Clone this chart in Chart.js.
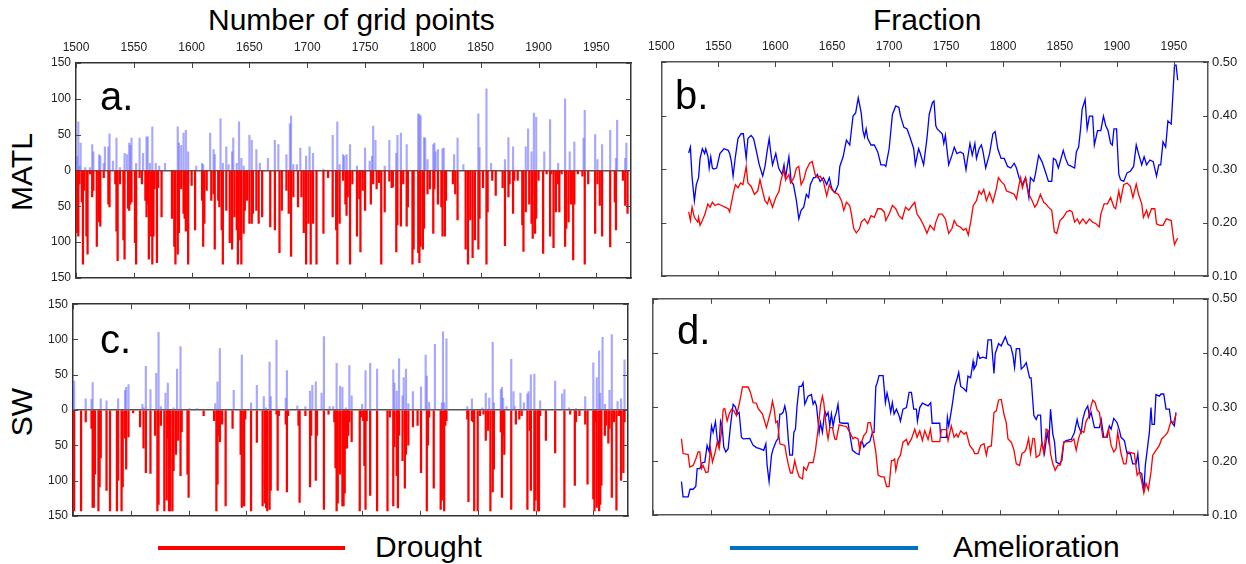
<!DOCTYPE html>
<html>
<head>
<meta charset="utf-8">
<script src="https://cdn.jsdelivr.net/npm/chart.js@4.4.1/dist/chart.umd.min.js"></script>
<style>
  body { margin: 0; background: #fff; }
  #wrap { position: relative; width: 1246px; height: 564px; overflow: hidden; font-family: "Liberation Sans", Arial, sans-serif; color: #000; }
  canvas { position: absolute; }
  .txt { position: absolute; white-space: nowrap; line-height: 1; }
  .big { font-size: 30px; }
  .letter { font-size: 40px; }
  .rot { position: absolute; font-size: 30px; line-height: 1; transform: translate(-50%, -50%) rotate(-90deg); white-space: nowrap; }
  .leg { position: absolute; height: 4px; }
</style>
</head>
<body>
<div id="wrap">
  <div class="txt big" style="left:208px; top:5px;">Number of grid points</div>
  <div class="txt big" style="left:873px; top:5px;">Fraction</div>
  <div class="rot" style="left:22px; top:172px;">MATL</div>
  <div class="rot" style="left:22px; top:412px;">SW</div>

  <canvas id="panelA" width="620" height="260" style="left:30px; top:30px;"></canvas>
  <canvas id="panelB" width="606" height="258" style="left:640px; top:30px;"></canvas>
  <canvas id="panelC" width="620" height="236" style="left:27px; top:292px;"></canvas>
  <canvas id="panelD" width="606" height="240" style="left:640px; top:287px;"></canvas>

  <div class="txt letter" style="left:100px; top:76px;">a.</div>
  <div class="txt letter" style="left:675px; top:75px;">b.</div>
  <div class="txt letter" style="left:100px; top:319px;">c.</div>
  <div class="txt letter" style="left:677px; top:310px;">d.</div>

  <div class="leg" style="left:158px; top:546px; width:187px; background:#ff0000;"></div>
  <div class="txt big" style="left:375px; top:532px;">Drought</div>
  <div class="leg" style="left:730px; top:546px; width:188px; background:#0070c0;"></div>
  <div class="txt big" style="left:953px; top:532px;">Amelioration</div>
</div>
<script>
// panel a (MATL) : [year, number of grid points]
const aDrought = [[1501,87],[1502,92],[1503,19],[1505,44],[1506,131],[1507,28],[1509,92],[1510,117],[1512,5],[1514,37],[1515,28],[1518,106],[1520,72],[1521,78],[1524,10],[1528,47],[1529,51],[1534,19],[1535,85],[1536,126],[1538,19],[1541,97],[1542,124],[1545,53],[1546,56],[1547,47],[1548,44],[1551,101],[1552,131],[1555,10],[1557,19],[1560,42],[1561,65],[1562,47],[1563,124],[1565,92],[1566,131],[1567,92],[1568,26],[1570,129],[1571,24],[1574,65],[1583,67],[1585,106],[1586,131],[1588,117],[1589,87],[1591,26],[1593,60],[1594,67],[1595,85],[1597,131],[1600,21],[1603,83],[1609,42],[1610,106],[1611,74],[1613,28],[1617,42],[1619,33],[1620,110],[1623,42],[1624,51],[1626,83],[1627,131],[1630,56],[1633,101],[1635,110],[1637,65],[1639,83],[1640,131],[1642,97],[1643,131],[1645,88],[1646,56],[1648,42],[1650,74],[1652,74],[1653,60],[1656,56],[1658,74],[1661,65],[1668,79],[1672,83],[1676,115],[1678,56],[1682,28],[1684,60],[1686,120],[1688,37],[1692,51],[1695,37],[1697,87],[1699,131],[1701,74],[1703,131],[1705,74],[1708,131],[1714,88],[1718,10],[1722,65],[1725,83],[1726,131],[1728,74],[1731,14],[1733,47],[1734,63],[1735,37],[1737,131],[1739,19],[1743,92],[1745,40],[1746,114],[1748,28],[1750,56],[1755,47],[1757,19],[1760,26],[1762,17],[1764,131],[1767,58],[1771,15],[1773,24],[1774,23],[1777,114],[1778,76],[1781,78],[1783,19],[1786,78],[1787,51],[1791,131],[1792,110],[1796,115],[1797,129],[1798,106],[1800,110],[1801,81],[1804,33],[1806,26],[1809,88],[1810,26],[1813,47],[1816,51],[1817,92],[1819,92],[1820,42],[1826,19],[1828,33],[1830,69],[1837,110],[1839,131],[1841,69],[1843,122],[1845,97],[1848,110],[1849,67],[1852,24],[1855,131],[1856,58],[1860,14],[1863,35],[1869,24],[1871,105],[1874,37],[1875,19],[1878,60],[1879,14],[1882,14],[1886,76],[1887,113],[1889,58],[1892,47],[1894,74],[1895,95],[1897,88],[1898,67],[1900,14],[1904,116],[1907,5],[1910,92],[1911,5],[1913,108],[1915,58],[1917,19],[1918,58],[1920,5],[1923,106],[1924,81],[1926,72],[1928,47],[1930,125],[1931,47],[1934,5],[1938,8],[1940,131],[1943,19],[1949,88],[1951,19],[1953,49],[1955,92],[1962,107],[1966,44],[1967,83],[1973,14],[1975,49],[1977,60]];
const aAmel = [[1501,20],[1502,68],[1503,6],[1504,38],[1508,4],[1512,4],[1514,36],[1515,26],[1520,22],[1521,20],[1524,10],[1525,33],[1528,33],[1529,51],[1532,13],[1535,45],[1538,4],[1542,24],[1544,22],[1546,38],[1547,35],[1548,45],[1552,10],[1555,45],[1558,24],[1561,47],[1562,47],[1564,10],[1566,61],[1569,10],[1572,6],[1577,10],[1588,61],[1589,38],[1591,35],[1593,52],[1595,56],[1597,26],[1604,6],[1609,10],[1610,8],[1616,52],[1619,29],[1620,22],[1625,72],[1627,10],[1630,33],[1632,8],[1635,26],[1636,45],[1639,10],[1641,68],[1643,17],[1645,6],[1650,49],[1652,42],[1656,29],[1659,10],[1666,17],[1672,42],[1675,36],[1682,22],[1685,65],[1686,76],[1688,8],[1691,8],[1694,31],[1699,20],[1702,33],[1705,24],[1714,2],[1722,49],[1726,68],[1728,8],[1731,22],[1732,20],[1734,22],[1737,36],[1743,6],[1750,31],[1754,13],[1756,20],[1757,62],[1759,42],[1767,6],[1771,42],[1777,24],[1778,49],[1781,52],[1786,36],[1796,79],[1797,78],[1798,76],[1801,46],[1802,45],[1804,15],[1809,36],[1810,38],[1811,26],[1813,29],[1817,30],[1818,31],[1827,22],[1830,45],[1835,8],[1848,79],[1849,32],[1855,114],[1859,10],[1871,15],[1874,46],[1878,33],[1889,33],[1891,58],[1894,26],[1896,80],[1898,74],[1905,26],[1910,71],[1917,10],[1923,100],[1927,26],[1931,40],[1939,45],[1940,84],[1949,50],[1951,15],[1955,36],[1962,56],[1967,17],[1968,70],[1975,17],[1976,38]];

// panel c (SW)
const cDrought = [[1500,118],[1501,143],[1507,143],[1511,17],[1516,26],[1517,138],[1518,138],[1519,91],[1522,143],[1523,109],[1524,68],[1529,114],[1532,143],[1538,143],[1539,100],[1542,143],[1543,109],[1545,40],[1546,84],[1548,38],[1552,4],[1558,24],[1561,54],[1563,89],[1567,90],[1571,36],[1573,143],[1574,134],[1576,22],[1579,143],[1581,128],[1582,40],[1583,143],[1584,143],[1586,143],[1587,86],[1589,63],[1591,43],[1593,93],[1594,31],[1599,91],[1600,124],[1613,8],[1622,15],[1624,143],[1625,105],[1626,36],[1627,45],[1629,20],[1632,136],[1638,26],[1645,63],[1646,138],[1648,136],[1649,13],[1654,143],[1659,46],[1664,136],[1666,132],[1667,139],[1668,143],[1670,141],[1671,114],[1676,6],[1677,114],[1678,8],[1684,20],[1685,116],[1686,8],[1695,22],[1696,131],[1701,8],[1705,109],[1706,36],[1710,100],[1711,36],[1717,141],[1721,6],[1726,17],[1727,82],[1728,143],[1729,132],[1731,91],[1733,136],[1734,136],[1735,118],[1736,54],[1737,54],[1738,36],[1739,17],[1741,45],[1748,143],[1749,10],[1751,15],[1752,79],[1753,141],[1754,15],[1757,121],[1763,143],[1772,143],[1774,10],[1777,136],[1778,52],[1780,93],[1781,139],[1782,36],[1785,72],[1787,111],[1788,63],[1790,50],[1794,24],[1798,22],[1801,89],[1806,143],[1807,50],[1808,10],[1812,111],[1818,141],[1819,128],[1821,143],[1822,22],[1823,15],[1841,13],[1842,130],[1845,15],[1846,17],[1847,143],[1850,143],[1852,8],[1855,6],[1857,43],[1859,29],[1861,143],[1863,116],[1864,84],[1870,31],[1871,124],[1872,36],[1873,63],[1879,141],[1883,20],[1886,13],[1888,8],[1893,141],[1895,29],[1896,114],[1899,143],[1900,128],[1902,143],[1903,143],[1904,8],[1909,43],[1917,61],[1925,138],[1930,6],[1934,107],[1935,17],[1938,8],[1943,20],[1945,105],[1950,126],[1951,143],[1952,17],[1953,138],[1955,143],[1956,134],[1957,107],[1960,36],[1961,22],[1963,47],[1964,26],[1966,124],[1968,17],[1970,142],[1972,8],[1973,8],[1974,100],[1976,89],[1977,17]];
const cAmel = [[1500,31],[1501,41],[1511,16],[1516,15],[1517,39],[1524,16],[1529,13],[1539,16],[1545,28],[1546,32],[1548,36],[1560,8],[1561,3],[1563,62],[1567,29],[1572,52],[1574,110],[1576,5],[1580,24],[1582,38],[1587,3],[1590,58],[1593,90],[1601,2],[1607,2],[1623,9],[1625,40],[1627,87],[1639,28],[1646,78],[1654,10],[1659,35],[1665,19],[1667,3],[1670,68],[1671,19],[1676,99],[1684,17],[1685,56],[1694,6],[1701,5],[1705,27],[1707,35],[1710,40],[1715,24],[1717,104],[1722,5],[1725,5],[1728,66],[1731,34],[1733,32],[1736,3],[1739,63],[1741,20],[1750,8],[1753,56],[1757,66],[1763,58],[1777,57],[1778,38],[1780,27],[1782,73],[1785,20],[1786,46],[1788,58],[1790,9],[1794,26],[1801,33],[1805,78],[1806,48],[1808,11],[1813,93],[1819,10],[1820,111],[1821,10],[1823,101],[1841,5],[1845,16],[1854,3],[1857,24],[1860,17],[1863,96],[1864,10],[1870,29],[1871,32],[1872,17],[1875,5],[1879,72],[1881,26],[1882,5],[1887,24],[1890,10],[1893,23],[1894,26],[1896,50],[1899,51],[1904,13],[1917,41],[1923,23],[1925,29],[1929,3],[1935,2],[1943,19],[1950,67],[1953,46],[1955,84],[1956,24],[1958,103],[1960,8],[1964,28],[1966,107],[1971,12],[1974,16],[1977,71]];

// panel b (MATL) : [year, fraction]
const bAmel = [[1524,0.330],[1525.5,0.341],[1527,0.284],[1529,0.241],[1530.7,0.271],[1532.7,0.284],[1534,0.320],[1536,0.338],[1538,0.329],[1539,0.338],[1541,0.323],[1542,0.302],[1543.4,0.323],[1544.8,0.302],[1546,0.300],[1548.6,0.302],[1551.4,0.329],[1555,0.338],[1558.7,0.335],[1560,0.329],[1561.5,0.314],[1563,0.287],[1565,0.323],[1567.3,0.357],[1570,0.366],[1572,0.366],[1574.5,0.320],[1576,0.357],[1578.8,0.363],[1581,0.357],[1583,0.338],[1586,0.308],[1589,0.287],[1591,0.305],[1593,0.335],[1594.7,0.357],[1596,0.332],[1597.6,0.308],[1600.5,0.329],[1603,0.302],[1606,0.290],[1607.7,0.308],[1609,0.284],[1612,0.323],[1614,0.277],[1616,0.271],[1618.6,0.241],[1620.7,0.207],[1622.7,0.223],[1625,0.229],[1627.3,0.253],[1629.3,0.247],[1630.8,0.271],[1633.6,0.284],[1635,0.284],[1637,0.290],[1639.4,0.277],[1642.3,0.284],[1645.2,0.271],[1647.5,0.284],[1649.5,0.265],[1651,0.259],[1652.4,0.256],[1655.3,0.271],[1656.7,0.305],[1659.6,0.323],[1662.5,0.354],[1665.4,0.345],[1668.3,0.399],[1670.6,0.405],[1672.9,0.433],[1675.5,0.405],[1677,0.372],[1678.4,0.360],[1679.8,0.375],[1681.2,0.357],[1684.1,0.345],[1687,0.345],[1690,0.332],[1692.8,0.308],[1695.7,0.308],[1697.1,0.305],[1700,0.338],[1702.9,0.402],[1705.8,0.418],[1708.6,0.415],[1710,0.399],[1713,0.378],[1715.8,0.375],[1718.7,0.357],[1721.6,0.338],[1723,0.308],[1725.9,0.338],[1727.4,0.329],[1730.3,0.308],[1733.2,0.357],[1735.2,0.402],[1738,0.424],[1739.4,0.427],[1741,0.381],[1742.2,0.375],[1746.6,0.366],[1748,0.348],[1749.4,0.363],[1752.3,0.308],[1755.2,0.326],[1757.2,0.341],[1759.5,0.329],[1762.4,0.332],[1765.2,0.329],[1767.5,0.299],[1768.7,0.317],[1771,0.348],[1773,0.326],[1775.3,0.348],[1776.7,0.320],[1779,0.338],[1781,0.345],[1782.5,0.332],[1784.8,0.302],[1788.2,0.329],[1791.1,0.366],[1793.1,0.370],[1795.4,0.338],[1798.3,0.320],[1801.1,0.320],[1804,0.305],[1806.9,0.302],[1809.8,0.311],[1811.8,0.302],[1814.1,0.284],[1817,0.271],[1819.8,0.284],[1822.7,0.247],[1824.1,0.284],[1827,0.277],[1828.4,0.290],[1831.3,0.326],[1834.2,0.314],[1837.1,0.296],[1839.9,0.277],[1842.8,0.277],[1844.3,0.320],[1846.3,0.317],[1848.6,0.302],[1850.6,0.317],[1852.9,0.335],[1854.9,0.320],[1857.2,0.308],[1860.1,0.305],[1862.9,0.302],[1864.4,0.332],[1866.4,0.341],[1868.1,0.375],[1869.5,0.412],[1872.1,0.430],[1873.9,0.375],[1875.9,0.399],[1878.7,0.399],[1880.2,0.345],[1883,0.372],[1885.9,0.372],[1888.2,0.399],[1890.2,0.381],[1892.2,0.372],[1894.5,0.348],[1896,0.345],[1897.4,0.375],[1899.7,0.375],[1901.7,0.290],[1903.2,0.280],[1906,0.277],[1908.9,0.293],[1911.8,0.296],[1914.7,0.305],[1917,0.345],[1919,0.329],[1921.8,0.308],[1923.9,0.323],[1926.1,0.308],[1929,0.317],[1931.9,0.314],[1934.8,0.287],[1936.8,0.308],[1938.5,0.308],[1940.5,0.351],[1942.8,0.341],[1944.8,0.390],[1947.7,0.384],[1949.1,0.436],[1950.6,0.494],[1952,0.494],[1953.4,0.466]];
const bDrought = [[1524,0.220],[1525.5,0.204],[1527,0.229],[1529,0.210],[1532,0.201],[1532.7,0.210],[1534,0.195],[1536,0.204],[1538.3,0.216],[1540.8,0.235],[1542.8,0.229],[1544.8,0.238],[1547,0.232],[1550,0.235],[1552.9,0.232],[1555.8,0.229],[1558.7,0.226],[1560,0.220],[1563,0.253],[1565,0.271],[1567.3,0.265],[1569.6,0.274],[1571.6,0.271],[1574.5,0.305],[1576,0.274],[1578.8,0.268],[1581.7,0.253],[1584.6,0.259],[1586.6,0.280],[1588.9,0.259],[1591,0.241],[1593.2,0.235],[1594.7,0.247],[1597.6,0.229],[1600.5,0.247],[1603.4,0.259],[1604.8,0.277],[1607.7,0.299],[1609.1,0.280],[1612,0.290],[1613.5,0.274],[1616.4,0.284],[1618.6,0.302],[1620.7,0.305],[1622.7,0.271],[1625,0.280],[1627.3,0.299],[1630.2,0.311],[1632.5,0.314],[1635,0.290],[1637,0.284],[1639.4,0.287],[1642.3,0.277],[1645.2,0.250],[1647.5,0.271],[1649.5,0.262],[1652.4,0.256],[1655.3,0.253],[1658.2,0.241],[1660.2,0.223],[1662.5,0.238],[1665.4,0.232],[1666.9,0.216],[1668.9,0.189],[1671.2,0.181],[1674.1,0.189],[1675.5,0.201],[1678.4,0.207],[1681.2,0.198],[1684.1,0.213],[1687,0.210],[1690,0.226],[1692.8,0.226],[1695.7,0.220],[1697.1,0.204],[1700,0.216],[1702.9,0.232],[1705.8,0.226],[1708.6,0.213],[1711.5,0.207],[1714.4,0.229],[1717.3,0.223],[1720.2,0.232],[1722.5,0.238],[1724.5,0.216],[1727.4,0.207],[1730.3,0.195],[1733.2,0.180],[1736,0.195],[1739.4,0.186],[1741,0.201],[1743.7,0.216],[1746.6,0.216],[1749.4,0.207],[1752.3,0.180],[1755.2,0.189],[1757.2,0.204],[1759.5,0.195],[1762.4,0.192],[1765.2,0.186],[1767.5,0.189],[1769.5,0.177],[1771.6,0.201],[1773.9,0.232],[1776.7,0.241],[1779,0.259],[1781,0.253],[1783.1,0.262],[1785.4,0.241],[1788.2,0.256],[1791.1,0.238],[1794,0.262],[1796,0.284],[1798.3,0.277],[1801.1,0.271],[1803.1,0.259],[1806.9,0.256],[1809.8,0.253],[1811.8,0.244],[1814.1,0.271],[1815.5,0.284],[1817,0.265],[1819.8,0.284],[1822.7,0.253],[1825.6,0.241],[1827.9,0.229],[1829.9,0.235],[1832.8,0.253],[1835.7,0.238],[1837.7,0.235],[1839.9,0.229],[1842.8,0.223],[1845.1,0.183],[1847.2,0.180],[1850,0.204],[1852.9,0.210],[1855.8,0.220],[1858.7,0.223],[1860.7,0.220],[1862.9,0.201],[1865.2,0.207],[1867.2,0.198],[1870.1,0.207],[1873,0.198],[1875.9,0.207],[1878.7,0.201],[1881.6,0.198],[1884.5,0.192],[1885.9,0.216],[1888.8,0.235],[1891.7,0.235],[1894.5,0.247],[1897.4,0.229],[1898.9,0.226],[1901.7,0.259],[1903.2,0.241],[1906,0.271],[1908.9,0.274],[1911.8,0.268],[1914.1,0.247],[1917,0.272],[1919,0.253],[1921.8,0.235],[1923.3,0.210],[1926.1,0.223],[1927.6,0.210],[1930.4,0.226],[1933.3,0.226],[1934.8,0.198],[1937.7,0.195],[1940.5,0.195],[1943.4,0.207],[1947.7,0.204],[1949.1,0.180],[1950.6,0.159],[1952.6,0.168],[1953.4,0.171]];

// panel d (SW)
const dAmel = [[1524.6,0.162],[1526,0.134],[1530.4,0.134],[1532,0.148],[1534.7,0.148],[1537,0.153],[1538.2,0.186],[1540.5,0.186],[1542.5,0.197],[1544.8,0.198],[1546.8,0.229],[1548.6,0.217],[1550.6,0.265],[1552,0.253],[1554,0.273],[1555.5,0.241],[1557.2,0.229],[1558.4,0.274],[1559.8,0.265],[1561.2,0.226],[1563,0.217],[1565,0.223],[1567,0.265],[1569.3,0.305],[1571.3,0.300],[1572.8,0.287],[1574.5,0.290],[1576.5,0.244],[1578,0.241],[1583.7,0.242],[1586.6,0.229],[1589.5,0.225],[1592.4,0.223],[1595.8,0.220],[1597.6,0.232],[1598.7,0.192],[1600.4,0.162],[1602.5,0.211],[1604,0.223],[1606.8,0.238],[1608.2,0.241],[1609.7,0.287],[1611.1,0.287],[1612.5,0.290],[1614,0.302],[1615.4,0.287],[1617,0.241],[1618.3,0.211],[1620.6,0.211],[1621.8,0.253],[1623.2,0.259],[1624.6,0.302],[1626.4,0.338],[1628.4,0.338],[1629.8,0.345],[1631.3,0.305],[1634.1,0.320],[1637,0.323],[1638.5,0.305],[1640,0.311],[1641.4,0.302],[1643.7,0.253],[1644.8,0.271],[1646.5,0.253],[1648.6,0.293],[1650,0.284],[1651.4,0.290],[1652.9,0.265],[1654.3,0.287],[1655.8,0.265],[1657.2,0.281],[1658.6,0.290],[1660,0.305],[1661.5,0.271],[1664.4,0.270],[1668.7,0.270],[1670.7,0.244],[1672.5,0.220],[1676,0.214],[1678.2,0.212],[1679.4,0.235],[1681.1,0.235],[1682.3,0.226],[1684.6,0.232],[1687.5,0.236],[1689.8,0.253],[1691.2,0.253],[1692.7,0.338],[1693.8,0.344],[1695.5,0.358],[1699,0.358],[1701,0.308],[1702.4,0.326],[1704.2,0.308],[1705.6,0.290],[1707,0.308],[1708.5,0.287],[1710.5,0.296],[1712.8,0.284],[1714,0.274],[1716.2,0.296],[1719.2,0.299],[1721.5,0.327],[1723.5,0.327],[1725.5,0.296],[1727.8,0.296],[1728.7,0.274],[1730.7,0.299],[1733,0.307],[1737.9,0.302],[1740.2,0.308],[1741.4,0.270],[1748,0.270],[1748.8,0.244],[1753.7,0.244],[1754.6,0.281],[1755.8,0.265],[1758,0.293],[1759.5,0.314],[1761,0.338],[1763.2,0.354],[1764.4,0.364],[1766.1,0.338],[1768.1,0.335],[1771,0.329],[1772.4,0.357],[1774.7,0.354],[1776.8,0.384],[1777.6,0.370],[1779.6,0.378],[1781,0.400],[1782.5,0.390],[1785.3,0.392],[1788.2,0.390],[1789.7,0.424],[1792.6,0.424],[1794.9,0.362],[1796,0.399],[1798.9,0.417],[1801.2,0.413],[1804.7,0.430],[1807,0.416],[1809.3,0.413],[1811.3,0.396],[1812.7,0.373],[1814.2,0.408],[1817,0.408],[1818.5,0.370],[1820.8,0.375],[1822.8,0.382],[1825.7,0.354],[1827,0.354],[1829.4,0.284],[1831.4,0.277],[1832.9,0.285],[1835.2,0.285],[1836.3,0.235],[1838.6,0.214],[1840.9,0.253],[1842.4,0.235],[1843.8,0.296],[1845.8,0.250],[1847.3,0.235],[1848.7,0.198],[1851.6,0.195],[1853.6,0.201],[1855.3,0.235],[1857.3,0.238],[1861.7,0.240],[1864.5,0.253],[1866.8,0.277],[1868,0.265],[1870.3,0.253],[1871.7,0.277],[1873.7,0.293],[1876,0.302],[1877.5,0.281],[1878.9,0.290],[1881.8,0.262],[1886.1,0.262],[1887.6,0.277],[1889.9,0.244],[1892.7,0.244],[1894.7,0.265],[1896.2,0.259],[1898.5,0.279],[1901.4,0.271],[1903.5,0.256],[1904.8,0.244],[1907.7,0.238],[1910,0.214],[1912.9,0.214],[1914.9,0.195],[1917.8,0.195],[1919.3,0.214],[1920.7,0.180],[1922.7,0.177],[1924.5,0.144],[1925.8,0.192],[1927.9,0.229],[1929.3,0.253],[1930.7,0.299],[1931.6,0.268],[1933.6,0.268],[1935,0.323],[1937.9,0.320],[1939.4,0.324],[1941.7,0.324],[1943.7,0.296],[1946.6,0.296],[1948,0.273],[1950.9,0.265],[1952.3,0.290]];
const dDrought = [[1524.6,0.241],[1526,0.214],[1530.4,0.212],[1531.8,0.189],[1534.7,0.192],[1537,0.204],[1539,0.217],[1540.5,0.217],[1541.9,0.186],[1543.3,0.192],[1545.7,0.179],[1547.7,0.180],[1549.7,0.223],[1551.4,0.198],[1553.5,0.214],[1555.5,0.235],[1557.2,0.223],[1559.2,0.253],[1560.7,0.296],[1562.1,0.297],[1564.1,0.274],[1565.9,0.287],[1567.9,0.296],[1569.9,0.293],[1572.2,0.284],[1575.1,0.311],[1577.4,0.337],[1582.3,0.337],[1584.3,0.327],[1586.6,0.308],[1589.5,0.307],[1591,0.297],[1594.7,0.287],[1598.1,0.262],[1599.6,0.274],[1601.9,0.293],[1603.3,0.311],[1604.8,0.296],[1606.2,0.271],[1607.6,0.274],[1609.7,0.232],[1614,0.229],[1615.4,0.211],[1616.9,0.195],[1618.9,0.178],[1620.6,0.178],[1622.6,0.201],[1624.1,0.186],[1626.4,0.171],[1629.3,0.167],[1630.4,0.189],[1632.7,0.183],[1635,0.197],[1638.5,0.197],[1640.5,0.220],[1642.8,0.259],[1644.8,0.302],[1646.5,0.320],[1647.7,0.308],[1650,0.259],[1651.4,0.241],[1652.9,0.262],[1655.2,0.262],[1657.2,0.241],[1658.6,0.240],[1661,0.267],[1664.4,0.265],[1667.3,0.264],[1670.2,0.253],[1673,0.241],[1674.4,0.244],[1677.4,0.241],[1678.8,0.220],[1680.3,0.235],[1682.3,0.247],[1684.6,0.253],[1686,0.271],[1688,0.271],[1690.3,0.247],[1692.7,0.217],[1694.7,0.174],[1697.6,0.171],[1699.9,0.171],[1702,0.153],[1704.2,0.153],[1706.2,0.201],[1707.6,0.201],[1709,0.204],[1710,0.183],[1712,0.204],[1714,0.211],[1716.2,0.235],[1719.2,0.240],[1720.6,0.230],[1723.5,0.241],[1726.4,0.259],[1728.4,0.244],[1730.7,0.256],[1733,0.238],[1735,0.256],[1737.9,0.240],[1739.9,0.259],[1741.4,0.236],[1748,0.236],[1749.4,0.258],[1753.7,0.258],[1755.2,0.238],[1758,0.265],[1760.4,0.244],[1762.4,0.250],[1763.8,0.244],[1766.1,0.256],[1769,0.250],[1771,0.253],[1773.9,0.229],[1776.8,0.221],[1778.2,0.214],[1781,0.214],[1783.4,0.229],[1786.3,0.232],[1788.3,0.211],[1789.7,0.226],[1792.6,0.228],[1794.9,0.290],[1796.9,0.293],[1798.9,0.313],[1801.2,0.314],[1803.5,0.287],[1805.5,0.271],[1807,0.241],[1809.9,0.235],[1812.2,0.220],[1814.2,0.195],[1817,0.192],[1819.1,0.214],[1821.4,0.217],[1822.8,0.223],[1824.8,0.242],[1826.5,0.214],[1828.6,0.242],[1830,0.241],[1831.4,0.207],[1834.3,0.211],[1836.3,0.235],[1838,0.214],[1840,0.259],[1842.1,0.256],[1843.8,0.214],[1845.8,0.195],[1847.8,0.183],[1850.1,0.192],[1852.4,0.193],[1855.3,0.235],[1858.8,0.236],[1861.7,0.236],[1864,0.241],[1866,0.220],[1868,0.241],[1870.3,0.256],[1872.6,0.253],[1874.6,0.274],[1876.6,0.281],[1878.9,0.302],[1880.4,0.313],[1882.4,0.308],[1884.2,0.294],[1886.1,0.290],[1887.6,0.265],[1889,0.244],[1891.9,0.244],[1893.9,0.259],[1896.2,0.229],[1898.5,0.217],[1900.5,0.223],[1901.9,0.253],[1904.8,0.214],[1907.1,0.195],[1909.1,0.195],[1910.6,0.217],[1916.3,0.214],[1918.7,0.174],[1920.7,0.180],[1922.7,0.162],[1924.5,0.141],[1926.4,0.159],[1928.4,0.147],[1930.7,0.180],[1932.2,0.211],[1935,0.220],[1937.9,0.229],[1939.9,0.241],[1942.8,0.247],[1945.1,0.253],[1948,0.274],[1950.3,0.271],[1952.3,0.287]];

const yearMin = 1500;
const yearMax = 1980;
const yearTicks = [1500, 1550, 1600, 1650, 1700, 1750, 1800, 1850, 1900, 1950];
const countTicks = [-150, -100, -50, 0, 50, 100, 150];
const fracTicks = [0.1, 0.2, 0.3, 0.4, 0.5];

Chart.defaults.font.family = '"Liberation Sans", Arial, sans-serif';
Chart.defaults.color = '#222';

// ticks pointing into the plot, on all four sides
const innerTicks = {
  id: 'innerTicks',
  afterDraw(chart) {
    const ctx = chart.ctx;
    const a = chart.chartArea;
    const len = 5;
    ctx.save();
    ctx.strokeStyle = '#444';
    ctx.lineWidth = 1;
    Object.values(chart.scales).forEach((s) => {
      s.ticks.forEach((t) => {
        const p = Math.round(s.getPixelForValue(t.value)) + 0.5;
        ctx.beginPath();
        if (s.position === 'left') { ctx.moveTo(a.left, p); ctx.lineTo(a.left + len, p); }
        if (s.position === 'right') { ctx.moveTo(a.right, p); ctx.lineTo(a.right - len, p); }
        if (s.position === 'top') { ctx.moveTo(p, a.top); ctx.lineTo(p, a.top + len); }
        if (s.position === 'bottom') { ctx.moveTo(p, a.bottom); ctx.lineTo(p, a.bottom - len); }
        ctx.stroke();
      });
    });
    ctx.restore();
  }
};

const setTicks = (vals) => (s) => { s.ticks = vals.map((v) => ({ value: v })); };

// sz = [left, right, top, bottom] space around the plot area
function xAxis(pos, showLabels, size, border) {
  return {
    type: 'linear', position: pos, min: yearMin, max: yearMax, offset: false,
    ticks: { display: showLabels, padding: 8, maxRotation: 0, autoSkip: false, font: { size: 12 }, callback: (v) => String(v) },
    grid: { drawOnChartArea: false, drawTicks: false, offset: false },
    border: { color: border, width: 1.5 },
    afterBuildTicks: setTicks(yearTicks),
    afterFit: (s) => { s.height = size; }
  };
}

function barPanel(id, drought, amel, showX, sz) {
  const yCfg = (pos, showLabels, w) => ({
    position: pos, min: -150, max: 150,
    ticks: { display: showLabels, padding: 5, font: { size: 12 }, callback: (v) => Math.abs(v) },
    grid: {
      drawTicks: false, lineWidth: 1.5,
      color: (c) => (pos === 'left' && c.tick && c.tick.value === 0) ? '#555' : 'rgba(0,0,0,0)'
    },
    border: { color: '#333', width: 1.5 },
    afterBuildTicks: setTicks(countTicks),
    afterFit: (s) => { s.width = w; }
  });
  return new Chart(document.getElementById(id), {
    type: 'bar',
    data: {
      datasets: [
        {
          label: 'Amelioration',
          data: amel.map(([yr, v]) => ({ x: yr, y: v })),
          backgroundColor: 'rgba(110,110,255,0.6)',
          barThickness: 1.5, grouped: false, borderWidth: 0
        },
        {
          label: 'Drought',
          data: drought.map(([yr, v]) => ({ x: yr, y: -v })),
          backgroundColor: '#ff0000',
          barThickness: 1.6, grouped: false, borderWidth: 0
        }
      ]
    },
    options: {
      responsive: false, animation: false,
      layout: { padding: 0 },
      plugins: { legend: { display: false }, tooltip: { enabled: false } },
      scales: {
        x: xAxis('top', showX, sz[2], '#333'),
        x2: xAxis('bottom', false, sz[3], '#333'),
        y: yCfg('left', true, sz[0]),
        y2: yCfg('right', false, sz[1])
      }
    },
    plugins: [innerTicks]
  });
}

function linePanel(id, drought, amel, showX, sz) {
  const yCfg = (pos, showLabels, w) => ({
    position: pos, min: 0.1, max: 0.5,
    ticks: { display: showLabels, padding: 4, font: { size: 13 }, callback: (v) => v.toFixed(2) },
    grid: { drawOnChartArea: false, drawTicks: false },
    border: { color: '#555', width: 1.5 },
    afterBuildTicks: setTicks(fracTicks),
    afterFit: (s) => { s.width = w; }
  });
  const line = (label, pts, color) => ({
    label: label,
    data: pts.map(([yr, v]) => ({ x: yr, y: v })),
    borderColor: color, borderWidth: 1.3,
    pointRadius: 0, tension: 0, fill: false
  });
  return new Chart(document.getElementById(id), {
    type: 'line',
    data: {
      datasets: [
        line('Drought', drought, '#ff0000'),
        line('Amelioration', amel, '#0000ff')
      ]
    },
    options: {
      responsive: false, animation: false,
      layout: { padding: 0 },
      plugins: { legend: { display: false }, tooltip: { enabled: false } },
      scales: {
        x: xAxis('top', showX, sz[2], '#555'),
        x2: xAxis('bottom', false, sz[3], '#555'),
        y: yCfg('left', false, sz[0]),
        y2: yCfg('right', true, sz[1])
      }
    },
    plugins: [innerTicks]
  });
}

barPanel('panelA', aDrought, aAmel, true, [46, 19, 33, 8]);
barPanel('panelC', cDrought, cAmel, false, [46, 19, 10, 8]);
linePanel('panelB', bDrought, bAmel, true, [12, 38, 32, 9]);
linePanel('panelD', dDrought, dAmel, false, [13, 38, 10, 11]);
</script>
</body>
</html>
